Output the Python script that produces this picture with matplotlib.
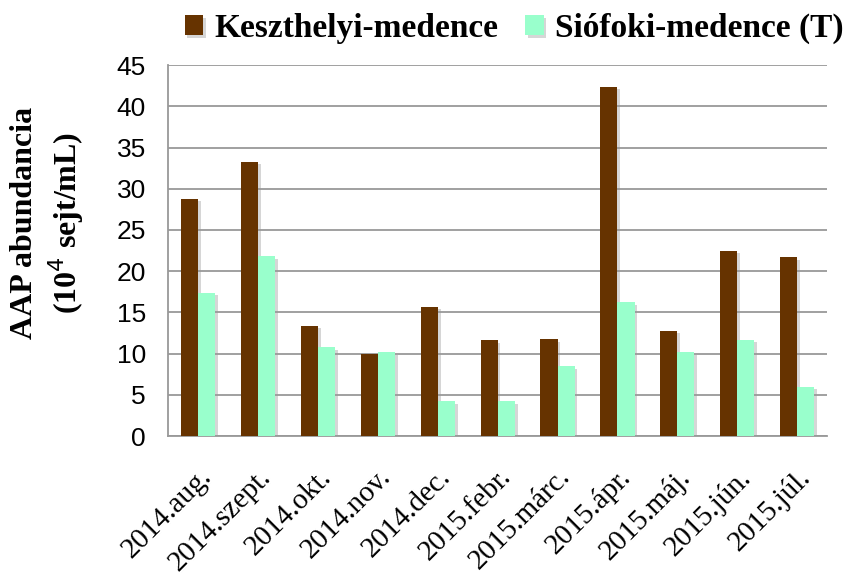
import matplotlib.pyplot as plt
import matplotlib.patheffects as pe
import numpy as np

months = ['2014.aug.', '2014.szept.', '2014.okt.', '2014.nov.', '2014.dec.',
          '2015.febr.', '2015.márc.', '2015.ápr.', '2015.máj.', '2015.jún.', '2015.júl.']
keszthelyi = [28.8, 33.3, 13.4, 9.9, 15.7, 11.6, 11.8, 42.4, 12.8, 22.5, 21.7]
siofoki = [17.4, 21.8, 10.8, 10.2, 4.2, 4.2, 8.5, 16.2, 10.2, 11.7, 6.0]

fig = plt.figure(figsize=(8.5, 5.76), dpi=100)
ax = fig.add_axes([0.198, 0.243, 0.775, 0.644])

x = np.arange(len(months))
w = 0.285
shadow = [pe.SimplePatchShadow(offset=(2, -2), shadow_rgbFace='#999999', alpha=0.4), pe.Normal()]
b1 = ax.bar(x - w/2, keszthelyi, w, color='#663300', label='Keszthelyi-medence', zorder=3)
b2 = ax.bar(x + w/2, siofoki, w, color='#99FFCC', label='Siófoki-medence (T)', zorder=3)
for b in list(b1) + list(b2):
    b.set_path_effects(shadow)

ax.set_xlim(-0.5, len(months) - 0.5)
ax.set_ylim(0, 45)
ax.set_yticks(range(0, 46, 5))
ax.yaxis.grid(True, color='#999999', linewidth=1.3, zorder=0)
ax.set_axisbelow(True)
for s in ['top', 'right']:
    ax.spines[s].set_visible(False)
for s in ['left', 'bottom']:
    ax.spines[s].set_color('#999999')
    ax.spines[s].set_linewidth(1.3)
ax.tick_params(length=0)
ax.tick_params(axis='y', labelsize=19, pad=16)
for t in ax.get_yticklabels():
    t.set_family('Liberation Sans')

ax.set_xticks(x)
ax.set_xticklabels(months, rotation=45, ha='right', rotation_mode='anchor',
                   family='Liberation Serif', fontsize=21)
ax.tick_params(axis='x', pad=20)

ax.set_ylabel('AAP abundancia\n(10$^4$ sejt/mL)', family='Liberation Serif',
              fontweight='bold', fontsize=23, linespacing=1.25)
ax.yaxis.set_label_coords(-0.125, 0.575)

leg = fig.legend(handles=[b1, b2], loc='center', bbox_to_anchor=(0.605, 0.951), ncol=2,
                 frameon=False, prop={'family': 'Liberation Serif', 'weight': 'bold', 'size': 24},
                 handlelength=0.55, handleheight=0.55, handletextpad=0.35, columnspacing=0.8,
                 borderpad=0)

fig.savefig('out.png', dpi=100)
